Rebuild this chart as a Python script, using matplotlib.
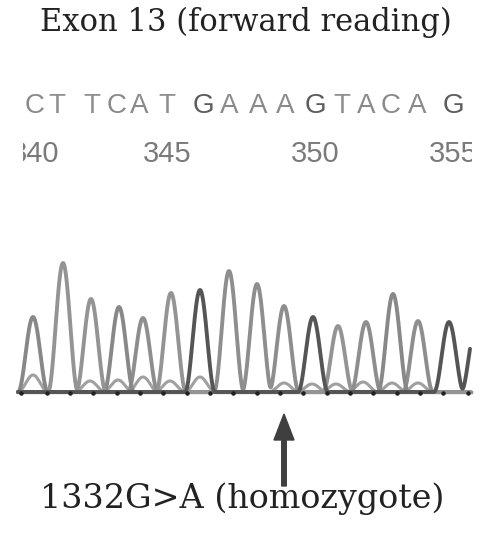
import numpy as np
import matplotlib
matplotlib.use("Agg")
import matplotlib.pyplot as plt

# called bases and where they sit (pixel-like scan units)
bases = ["C", "T", "T", "C", "A", "T", "G", "A", "A", "A", "G", "T", "A", "C", "A", "G"]
base_x = [35, 57, 92, 117, 139, 167, 203, 229, 258, 285, 315, 342, 366, 391, 417, 453]
pos_labels = ["340", "345", "350", "355"]
pos_index = [0, 5, 10, 15]

# main peaks of the trace: centre and height, one per called base (+ a partial one at the edge)
peak_x = [33, 63, 91, 119, 143, 171, 200, 229, 257, 284, 313, 338, 366, 393, 418, 449, 476]
peak_h = [75, 129, 93, 85, 74, 99, 102, 121, 108, 86, 75, 66, 70, 98, 71, 70, 66]
peak_base = bases + ["G"]

# small secondary humps under the main peaks
minor_x = [33, 90, 118, 143, 170, 200, 284, 312, 336, 363, 392, 418]
minor_h = [17, 11, 12, 15, 11, 15, 9, 8, 8, 10, 9, 9]

# scan tick dots along the baseline
tick_x = [21, 47, 70, 93, 117, 140, 163, 187, 210, 233, 257, 280, 303, 327, 350, 373, 397, 420, 443, 468]

mutation = 9  # 1332G>A, the A called at position 349
base_y = 392
trace_colors = {"A": "#8e8e8e", "C": "#888888", "T": "#949494", "G": "#555555"}
letter_colors = {"A": "#8a8a8a", "C": "#8a8a8a", "T": "#8f8f8f", "G": "#5c5c5c"}


def peak(xs, x0, h, half_width):
    # rounded arch that falls to the baseline
    u = np.clip((xs - x0) / half_width, -1, 1)
    return h * np.cos(np.pi * u / 2) ** 2


W, H = 480, 542
fig = plt.figure(figsize=(4.8, 5.42), dpi=100)
ax = fig.add_axes([0, 0, 1, 1])
ax.set_xlim(0, W)
ax.set_ylim(H, 0)
ax.axis("off")

ax.text(246, 22, "Exon 13 (forward reading)", ha="center", va="center",
        fontsize=22, family="DejaVu Serif", color="#222222")

for b, x in zip(bases, base_x):
    ax.text(x, 106, b, ha="center", va="center", fontsize=20,
            family="Liberation Sans", color=letter_colors[b])

# position numbers, cut off at the edges of the read window
lo, hi = 23, 472
axn = fig.add_axes([lo / W, 1 - 175 / H, (hi - lo) / W, 45 / H])
axn.set_xlim(lo, hi)
axn.set_ylim(175, 130)
axn.axis("off")
for lab, i in zip(pos_labels, pos_index):
    axn.text(base_x[i], 154, lab, ha="center", va="center", fontsize=21,
             family="Liberation Sans", color="#7a7a7a", clip_on=True)

# chromatogram
xs = np.linspace(18, 470, 1800)
ax.plot([18, 471], [base_y, base_y], color="#8a8a8a", lw=2.4, zorder=1)

minor = np.zeros_like(xs)
for x0, h in zip(minor_x, minor_h):
    minor += peak(xs, x0, h, 15)
ax.plot(xs, base_y - minor, color="#a0a0a0", lw=2.2, zorder=2)

for b in ["A", "C", "T", "G"]:
    y = np.zeros_like(xs)
    for x0, h, pb in zip(peak_x, peak_h, peak_base):
        if pb == b:
            y += peak(xs, x0, h, 15)
    ax.plot(xs, base_y - y, color=trace_colors[b], lw=2.8, zorder=3 if b != "G" else 4,
            solid_capstyle="round")

ax.scatter(tick_x, [base_y + 1] * len(tick_x), s=5, color="#222222", zorder=5)

# arrow to the mutated base
ax.arrow(peak_x[mutation], 486, 0, -72, width=4.5, head_width=20, head_length=26,
         length_includes_head=True, color="#3f3f3f", zorder=5)

ax.text(242, 499, "1332G>A (homozygote)", ha="center", va="center",
        fontsize=24, family="DejaVu Serif", color="#222222")

fig.savefig("out.png", dpi=100)
